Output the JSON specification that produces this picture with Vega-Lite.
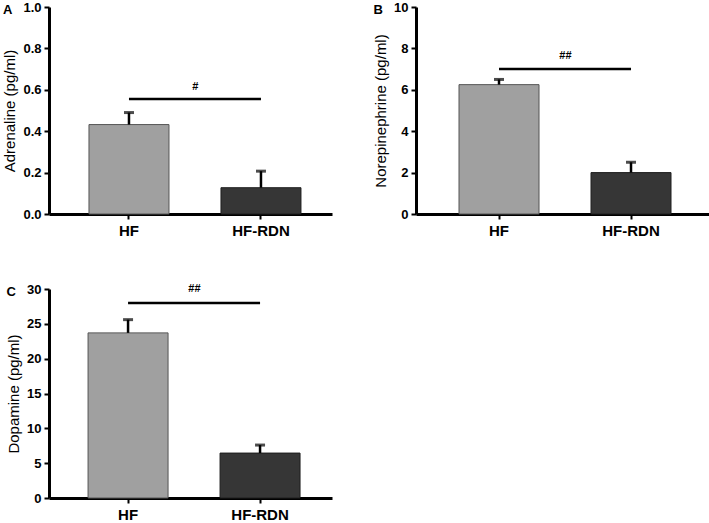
{
  "$schema": "https://vega.github.io/schema/vega-lite/v6.json",
  "background": "white",
  "padding": {"left": 2, "top": 1, "right": 0, "bottom": 0},
  "bounds": "flush",
  "columns": 2,
  "spacing": {"row": 75, "column": 84},
  "datasets": {
    "bars": [
      {"panel": "A", "group": "HF", "value": 0.432, "upper": 0.49},
      {"panel": "A", "group": "HF-RDN", "value": 0.127, "upper": 0.207},
      {"panel": "B", "group": "HF", "value": 6.25, "upper": 6.5},
      {"panel": "B", "group": "HF-RDN", "value": 2.0, "upper": 2.5},
      {"panel": "C", "group": "HF", "value": 23.7, "upper": 25.6},
      {"panel": "C", "group": "HF-RDN", "value": 6.45, "upper": 7.6}
    ],
    "sig": [
      {"panel": "A", "from": "HF", "to": "HF-RDN", "y": 0.555, "label": "#", "ly": 0.615},
      {"panel": "B", "from": "HF", "to": "HF-RDN", "y": 7.0, "label": "##", "ly": 7.64},
      {"panel": "C", "from": "HF", "to": "HF-RDN", "y": 28.0, "label": "##", "ly": 30.0}
    ]
  },
  "config": {
    "view": {"stroke": null},
    "axis": {
      "domainColor": "black", "domainWidth": 3,
      "tickColor": "black", "tickWidth": 2, "tickSize": 5,
      "labelFont": "Liberation Sans", "labelFontWeight": "bold", "labelColor": "black",
      "titleFont": "Liberation Sans", "titleFontWeight": "normal", "titleColor": "black",
      "grid": false
    },
    "axisX": {"labelFontSize": 15, "labelPadding": 4, "labelAngle": 0, "title": null},
    "axisY": {"labelFontSize": 13, "labelPadding": 3, "titleFontSize": 15, "titlePadding": 5, "labelOverlap": false},
    "title": {"font": "Liberation Sans", "fontSize": 13, "fontWeight": "bold", "color": "black", "anchor": "start", "frame": "bounds", "offset": -16}
  },
  "concat": [
    {
      "width": 283, "height": 207,
      "title": {"text": "A"},
      "layer": [
        {
          "data": {"name": "bars"},
          "transform": [{"filter": "datum.panel === 'A'"}],
          "mark": {"type": "bar", "strokeWidth": 1},
          "encoding": {
            "x": {"field": "group", "type": "nominal", "scale": {"domain": ["HF", "HF-RDN"], "paddingInner": 0.394, "paddingOuter": 0.269, "align": 0.563}},
            "y": {"field": "value", "type": "quantitative", "scale": {"domain": [0, 1]}, "axis": {"title": "Adrenaline (pg/ml)", "values": [0, 0.2, 0.4, 0.6, 0.8, 1.0], "format": ".1f"}},
            "fill": {"field": "group", "type": "nominal", "scale": {"domain": ["HF", "HF-RDN"], "range": ["#a0a0a0", "#363636"]}, "legend": null},
            "stroke": {"field": "group", "type": "nominal", "scale": {"domain": ["HF", "HF-RDN"], "range": ["#555555", "#1e1e1e"]}, "legend": null}
          }
        },
        {
          "data": {"name": "bars"},
          "transform": [{"filter": "datum.panel === 'A'"}],
          "mark": {"type": "rule", "strokeWidth": 2.5, "color": "black"},
          "encoding": {
            "x": {"field": "group", "type": "nominal"},
            "y": {"field": "value", "type": "quantitative", "axis": {"title": "Adrenaline (pg/ml)", "values": [0, 0.2, 0.4, 0.6, 0.8, 1.0], "format": ".1f"}},
            "y2": {"field": "upper"}
          }
        },
        {
          "data": {"name": "bars"},
          "transform": [{"filter": "datum.panel === 'A'"}],
          "mark": {"type": "tick", "size": 10, "thickness": 3, "color": "black", "orient": "horizontal"},
          "encoding": {
            "x": {"field": "group", "type": "nominal"},
            "y": {"field": "upper", "type": "quantitative", "axis": {"title": "Adrenaline (pg/ml)", "values": [0, 0.2, 0.4, 0.6, 0.8, 1.0], "format": ".1f"}}
          }
        },
        {
          "data": {"name": "sig"},
          "transform": [{"filter": "datum.panel === 'A'"}],
          "mark": {"type": "rule", "strokeWidth": 2.5, "color": "black"},
          "encoding": {
            "x": {"field": "from", "type": "nominal", "bandPosition": 0.5},
            "x2": {"field": "to", "bandPosition": 0.5},
            "y": {"field": "y", "type": "quantitative", "axis": {"title": "Adrenaline (pg/ml)", "values": [0, 0.2, 0.4, 0.6, 0.8, 1.0], "format": ".1f"}}
          }
        },
        {
          "data": {"name": "sig"},
          "transform": [{"filter": "datum.panel === 'A'"}],
          "mark": {"type": "text", "font": "Liberation Sans", "fontSize": 11, "fontWeight": "bold", "color": "black", "baseline": "middle", "align": "center"},
          "encoding": {
            "x": {"field": "from", "type": "nominal", "bandPosition": 1.33},
            "y": {"field": "ly", "type": "quantitative", "axis": {"title": "Adrenaline (pg/ml)", "values": [0, 0.2, 0.4, 0.6, 0.8, 1.0], "format": ".1f"}},
            "text": {"field": "label"}
          }
        }
      ]
    },
    {
      "width": 297, "height": 207,
      "title": {"text": "B"},
      "layer": [
        {
          "data": {"name": "bars"},
          "transform": [{"filter": "datum.panel === 'B'"}],
          "mark": {"type": "bar", "strokeWidth": 1},
          "encoding": {
            "x": {"field": "group", "type": "nominal", "scale": {"domain": ["HF", "HF-RDN"], "paddingInner": 0.394, "paddingOuter": 0.322, "align": 0.506}},
            "y": {"field": "value", "type": "quantitative", "scale": {"domain": [0, 10]}, "axis": {"title": "Norepinephrine (pg/ml)", "values": [0, 2, 4, 6, 8, 10], "format": "d"}},
            "fill": {"field": "group", "type": "nominal", "scale": {"domain": ["HF", "HF-RDN"], "range": ["#a0a0a0", "#363636"]}, "legend": null},
            "stroke": {"field": "group", "type": "nominal", "scale": {"domain": ["HF", "HF-RDN"], "range": ["#555555", "#1e1e1e"]}, "legend": null}
          }
        },
        {
          "data": {"name": "bars"},
          "transform": [{"filter": "datum.panel === 'B'"}],
          "mark": {"type": "rule", "strokeWidth": 2.5, "color": "black"},
          "encoding": {
            "x": {"field": "group", "type": "nominal"},
            "y": {"field": "value", "type": "quantitative", "axis": {"title": "Norepinephrine (pg/ml)", "values": [0, 2, 4, 6, 8, 10], "format": "d"}},
            "y2": {"field": "upper"}
          }
        },
        {
          "data": {"name": "bars"},
          "transform": [{"filter": "datum.panel === 'B'"}],
          "mark": {"type": "tick", "size": 10, "thickness": 3, "color": "black", "orient": "horizontal"},
          "encoding": {
            "x": {"field": "group", "type": "nominal"},
            "y": {"field": "upper", "type": "quantitative", "axis": {"title": "Norepinephrine (pg/ml)", "values": [0, 2, 4, 6, 8, 10], "format": "d"}}
          }
        },
        {
          "data": {"name": "sig"},
          "transform": [{"filter": "datum.panel === 'B'"}],
          "mark": {"type": "rule", "strokeWidth": 2.5, "color": "black"},
          "encoding": {
            "x": {"field": "from", "type": "nominal", "bandPosition": 0.5},
            "x2": {"field": "to", "bandPosition": 0.5},
            "y": {"field": "y", "type": "quantitative", "axis": {"title": "Norepinephrine (pg/ml)", "values": [0, 2, 4, 6, 8, 10], "format": "d"}}
          }
        },
        {
          "data": {"name": "sig"},
          "transform": [{"filter": "datum.panel === 'B'"}],
          "mark": {"type": "text", "font": "Liberation Sans", "fontSize": 11, "fontWeight": "bold", "color": "black", "baseline": "middle", "align": "center"},
          "encoding": {
            "x": {"field": "from", "type": "nominal", "bandPosition": 1.33},
            "y": {"field": "ly", "type": "quantitative", "axis": {"title": "Norepinephrine (pg/ml)", "values": [0, 2, 4, 6, 8, 10], "format": "d"}},
            "text": {"field": "label"}
          }
        }
      ]
    },
    {
      "width": 283, "height": 209,
      "title": {"text": "C"},
      "layer": [
        {
          "data": {"name": "bars"},
          "transform": [{"filter": "datum.panel === 'C'"}],
          "mark": {"type": "bar", "strokeWidth": 1},
          "encoding": {
            "x": {"field": "group", "type": "nominal", "scale": {"domain": ["HF", "HF-RDN"], "paddingInner": 0.394, "paddingOuter": 0.269, "align": 0.55}},
            "y": {"field": "value", "type": "quantitative", "scale": {"domain": [0, 30]}, "axis": {"title": "Dopamine (pg/ml)", "values": [0, 5, 10, 15, 20, 25, 30], "format": "d"}},
            "fill": {"field": "group", "type": "nominal", "scale": {"domain": ["HF", "HF-RDN"], "range": ["#a0a0a0", "#363636"]}, "legend": null},
            "stroke": {"field": "group", "type": "nominal", "scale": {"domain": ["HF", "HF-RDN"], "range": ["#555555", "#1e1e1e"]}, "legend": null}
          }
        },
        {
          "data": {"name": "bars"},
          "transform": [{"filter": "datum.panel === 'C'"}],
          "mark": {"type": "rule", "strokeWidth": 2.5, "color": "black"},
          "encoding": {
            "x": {"field": "group", "type": "nominal"},
            "y": {"field": "value", "type": "quantitative", "axis": {"title": "Dopamine (pg/ml)", "values": [0, 5, 10, 15, 20, 25, 30], "format": "d"}},
            "y2": {"field": "upper"}
          }
        },
        {
          "data": {"name": "bars"},
          "transform": [{"filter": "datum.panel === 'C'"}],
          "mark": {"type": "tick", "size": 10, "thickness": 3, "color": "black", "orient": "horizontal"},
          "encoding": {
            "x": {"field": "group", "type": "nominal"},
            "y": {"field": "upper", "type": "quantitative", "axis": {"title": "Dopamine (pg/ml)", "values": [0, 5, 10, 15, 20, 25, 30], "format": "d"}}
          }
        },
        {
          "data": {"name": "sig"},
          "transform": [{"filter": "datum.panel === 'C'"}],
          "mark": {"type": "rule", "strokeWidth": 2.5, "color": "black"},
          "encoding": {
            "x": {"field": "from", "type": "nominal", "bandPosition": 0.5},
            "x2": {"field": "to", "bandPosition": 0.5},
            "y": {"field": "y", "type": "quantitative", "axis": {"title": "Dopamine (pg/ml)", "values": [0, 5, 10, 15, 20, 25, 30], "format": "d"}}
          }
        },
        {
          "data": {"name": "sig"},
          "transform": [{"filter": "datum.panel === 'C'"}],
          "mark": {"type": "text", "font": "Liberation Sans", "fontSize": 11, "fontWeight": "bold", "color": "black", "baseline": "middle", "align": "center"},
          "encoding": {
            "x": {"field": "from", "type": "nominal", "bandPosition": 1.33},
            "y": {"field": "ly", "type": "quantitative", "axis": {"title": "Dopamine (pg/ml)", "values": [0, 5, 10, 15, 20, 25, 30], "format": "d"}},
            "text": {"field": "label"}
          }
        }
      ]
    }
  ]
}
